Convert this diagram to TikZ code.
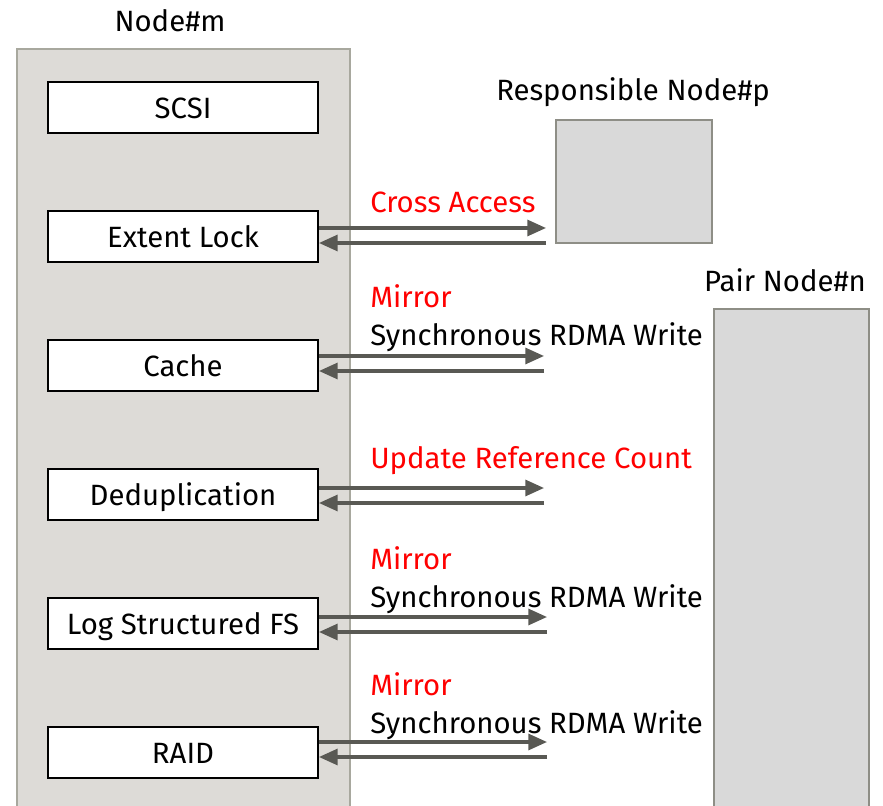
\documentclass[tikz,border=0pt]{standalone}
\usepackage{fontspec}
\setmainfont{Fira Sans}
\usetikzlibrary{arrows.meta}
\definecolor{hostfill}{HTML}{DDDBD7}
\definecolor{hostline}{HTML}{A8A89E}
\definecolor{peerfill}{HTML}{D9D9D9}
\definecolor{peerline}{HTML}{8E8E86}
\definecolor{linkgray}{HTML}{595954}
\definecolor{notered}{HTML}{FF0000}
\tikzset{
  every node/.style={font=\fontsize{22}{26}\selectfont},
  layer/.style={draw=black, line width=1.5pt, fill=white, minimum width=202.5pt,
    minimum height=38.25pt, inner sep=0pt, text height=16pt, text depth=0pt},
  hostbox/.style={draw=hostline, fill=hostfill, line width=1.2pt},
  peerbox/.style={draw=peerline, fill=peerfill, line width=1.2pt},
  link/.style={draw=linkgray, line width=2.3pt,
    -{Triangle[length=14pt,width=12pt]}},
  plain/.style={anchor=base west, inner sep=0pt},
}
\begin{document}
\begin{tikzpicture}[x=0.75pt,y=-0.75pt]
\useasboundingbox (0,0) rectangle (883,806);
% storage nodes
\draw[hostbox] (17,49) rectangle (350,820);
\draw[peerbox] (556,120) rectangle (712,243);
\draw[peerbox] (714,309) rectangle (869,820);
\node[anchor=base] (hm) at (170,32) {Node\#m};
\node[anchor=base] (rp) at (633,101) {Responsible Node\#p};
\node[anchor=base] (pn) at (785,292) {Pair Node\#n};
% software layers of Node#m
\node[layer] (scsi) at (183,107.5) {SCSI};
\node[layer] (lock) at (183,236.5) {Extent Lock};
\node[layer] (cache) at (183,365.5) {Cache};
\node[layer] (dedup) at (183,494.5) {Deduplication};
\node[layer] (lsfs) at (183,623.5) {Log Structured FS};
\node[layer] (raid) at (183,752.5) {RAID};
% link end points
\coordinate (e1) at (546,236);
\coordinate (e2) at (544,363);
\coordinate (e3) at (544,495);
\coordinate (e4) at (547,624);
\coordinate (e5) at (547,749);
\foreach \src/\dst/\up/\dn in {lock/e1/228/243, cache/e2/356/371, dedup/e3/488/503, lsfs/e4/617/632, raid/e5/742/757}{
  \draw[link] (\src.east |- 0,\up) -- (\dst |- 0,\up);
  \draw[link] (\dst |- 0,\dn) -- (\src.east |- 0,\dn);
}
% labels
\node[plain, text=notered] (t1) at (370,213) {Cross Access};
\node[plain, text=notered] (t2) at (370,308) {Mirror};
\node[plain] (t3) at (370,346) {Synchronous RDMA Write};
\node[plain, text=notered] (t4) at (370,468) {Update Reference Count};
\node[plain, text=notered] (t5) at (370,569) {Mirror};
\node[plain] (t6) at (370,607) {Synchronous RDMA Write};
\node[plain, text=notered] (t7) at (370,695) {Mirror};
\node[plain] (t8) at (370,733) {Synchronous RDMA Write};
\end{tikzpicture}
\end{document}
